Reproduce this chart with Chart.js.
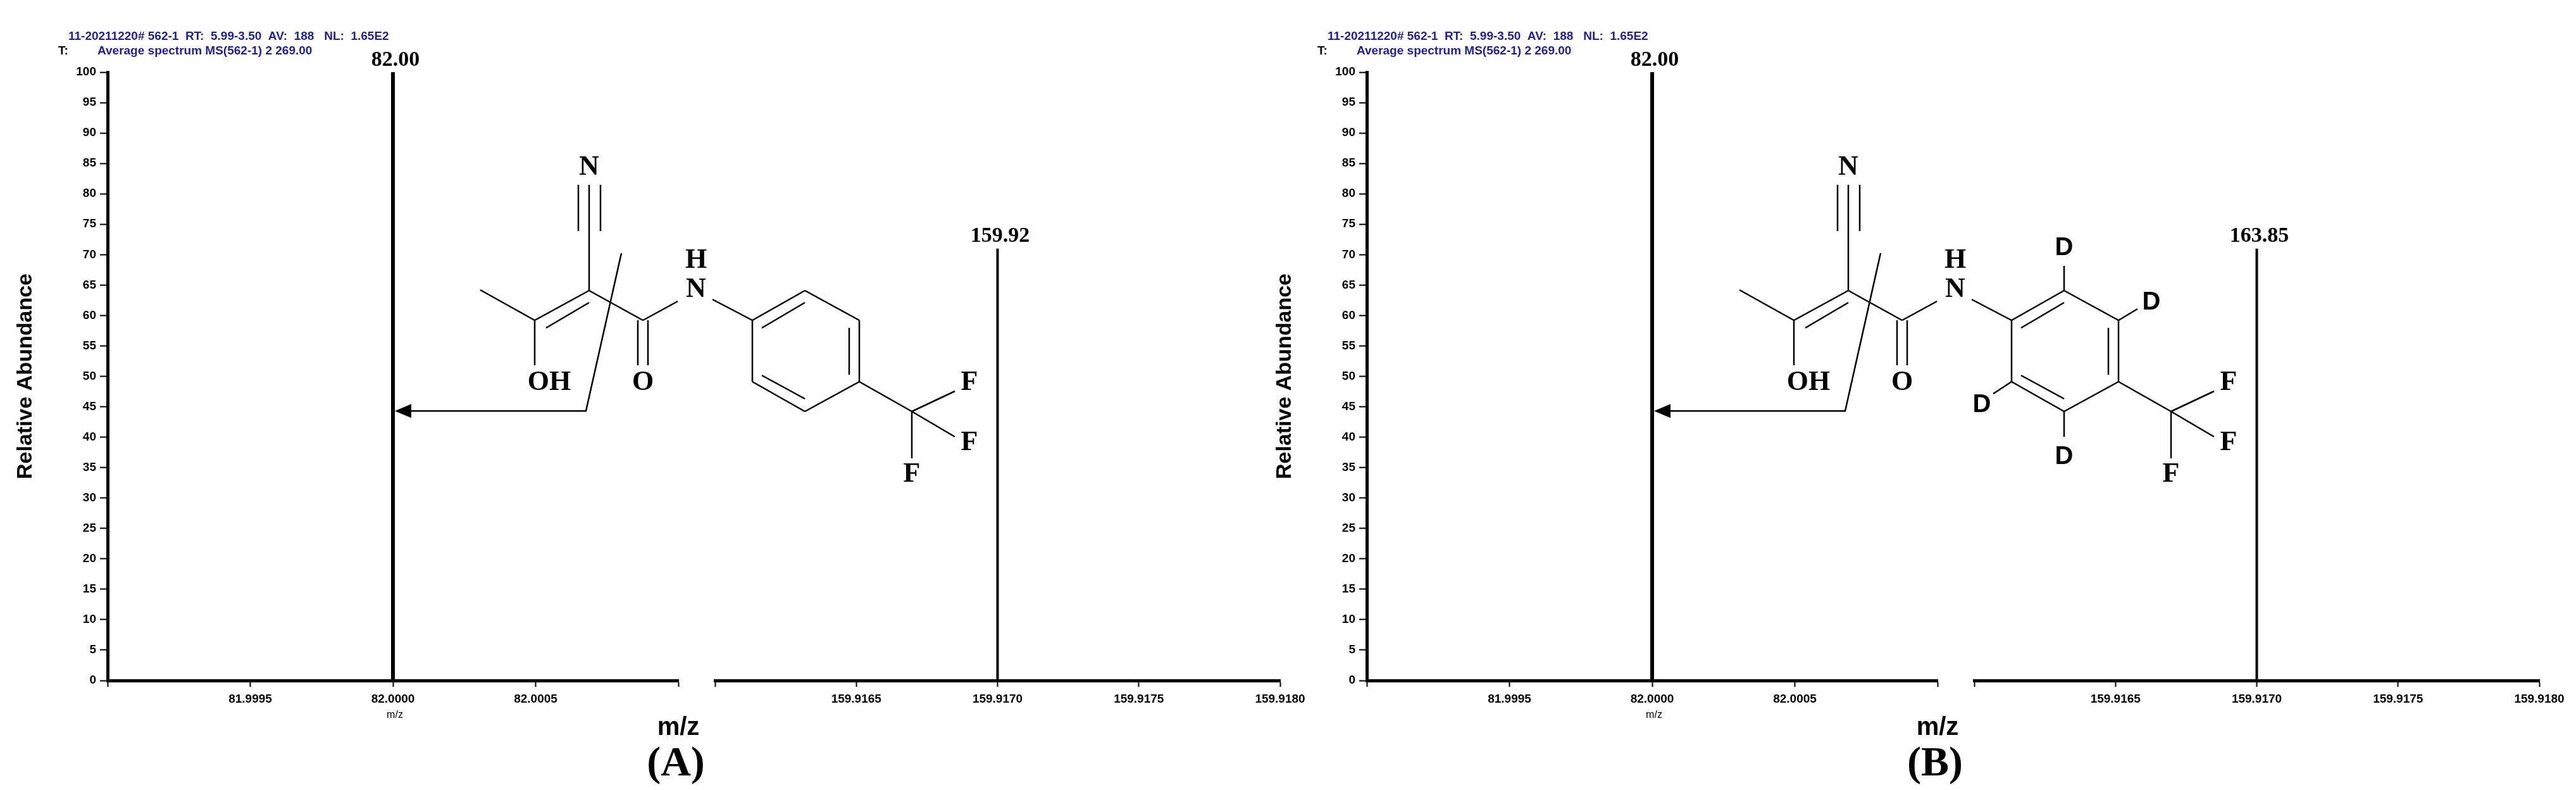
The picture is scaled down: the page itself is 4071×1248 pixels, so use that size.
<!DOCTYPE html>
<html>
<head>
<meta charset="utf-8">
<script src="https://cdn.jsdelivr.net/npm/chart.js@4.4.0/dist/chart.umd.min.js"></script>
<style>
body { margin: 0; background: #fff; }
#wrap { position: relative; width: 4071px; height: 1248px; overflow: hidden; }
canvas { position: absolute; }
</style>
</head>
<body>
<div id="wrap"></div>
<script>
// panel data
const panels = ['(A)', '(B)'];
const headerLine1 = '11-20211220# 562-1  RT:  5.99-3.50  AV:  188   NL:  1.65E2';
const headerLine2 = 'Average spectrum MS(562-1) 2 269.00';
const leftRange = [81.9990, 82.0010];
const rightRange = [159.9160, 159.9180];
const leftPeakMz = [82.0000];
const leftPeakAbund = [100];
const rightPeakMz = [159.9170];
const rightPeakAbund = [71];
const leftPeakLabels = [['82.00'], ['82.00']];
const rightPeakLabels = [['159.92'], ['163.85']];
const arrowAbund = 44.3;

const wrap = document.getElementById('wrap');
const W = 1248;
const tickFont = { family: 'Liberation Sans', size: 19, weight: 'bold' };

function makeCanvas(left, width) {
	let c = document.createElement('canvas');
	c.width = width; c.height = W;
	c.style.left = left + 'px'; c.style.top = '0px';
	c.style.width = width + 'px'; c.style.height = W + 'px';
	wrap.appendChild(c);
	return c;
}

const peakLabelPlugin = {
	id: 'peakLabels',
	afterDatasetsDraw(chart, args, opts) {
		let ctx = chart.ctx;
		ctx.save();
		ctx.fillStyle = '#000';
		ctx.font = 'bold 34px "Liberation Serif"';
		ctx.textAlign = 'center';
		ctx.textBaseline = 'bottom';
		chart.data.datasets.forEach(function(ds, i) {
			let top = ds.data[1];
			let x = chart.scales.x.getPixelForValue(top.x);
			let y = chart.scales.y.getPixelForValue(top.y);
			ctx.fillText(opts.labels[i], x + 4, y - 2);
		});
		ctx.restore();
	}
};

function peakDatasets(mz, ab, width) {
	return mz.map(function(m, i) {
		return {
			data: [{ x: m, y: 0 }, { x: m, y: ab[i] }],
			showLine: true, borderColor: '#000', borderWidth: width,
			pointRadius: 0, borderCapStyle: 'butt'
		};
	});
}

function xAxis(range, hideLast) {
	return {
		type: 'linear', min: range[0], max: range[1],
		afterFit: function(s) { s.height = W - 1075; },
		ticks: {
			stepSize: 0.0005, color: '#000', font: tickFont, maxRotation: 0, padding: 8,
			callback: function(v, i, t) {
				if (i === 0 || (hideLast && i === t.length - 1)) return '';
				return v.toFixed(4);
			}
		},
		grid: { drawOnChartArea: false, tickLength: 10, tickWidth: 2, tickColor: '#000' },
		border: { color: '#000', width: 5 }
	};
}

function drawMolecule(ctx, ox, oy, deut) {
	ctx.save();
	ctx.translate(ox, oy);
	ctx.strokeStyle = '#000';
	ctx.fillStyle = '#000';
	ctx.lineWidth = 2.5;
	function ln(a, b, c, d) { ctx.beginPath(); ctx.moveTo(a, b); ctx.lineTo(c, d); ctx.stroke(); }
	// nitrile
	ln(931, 292, 931, 459); ln(914, 292, 914, 365); ln(949, 292, 949, 365);
	// backbone
	ln(759, 458, 845, 506); ln(845, 506, 931, 459); ln(863, 518, 931, 478);
	ln(845, 506, 845, 577);
	ln(931, 459, 1016, 506); ln(1008, 506, 1008, 577); ln(1024, 506, 1024, 577);
	ln(1016, 506, 1071, 476); ln(1126, 473, 1189, 506);
	// ring
	let r = [[1189, 506], [1272, 459], [1358, 506], [1358, 603], [1272, 650], [1189, 603]];
	for (let i = 0; i < 6; i++) ln(r[i][0], r[i][1], r[(i + 1) % 6][0], r[(i + 1) % 6][1]);
	ln(1204, 518, 1272, 478); ln(1342, 518, 1342, 592); ln(1204, 593, 1272, 630);
	// CF3
	ln(1358, 603, 1441, 650); ln(1441, 650, 1509, 618); ln(1441, 650, 1509, 690); ln(1441, 650, 1441, 724);
	ctx.font = 'bold 44px "Liberation Serif"';
	ctx.textAlign = 'center'; ctx.textBaseline = 'middle';
	ctx.fillText('N', 931, 265); ctx.fillText('OH', 868, 605); ctx.fillText('O', 1016, 605);
	ctx.fillText('N', 1100, 458); ctx.fillText('H', 1100, 412);
	ctx.fillText('F', 1532, 605); ctx.fillText('F', 1532, 700); ctx.fillText('F', 1441, 750);
	if (deut) {
		ln(1272, 459, 1272, 420); ln(1358, 506, 1388, 488); ln(1189, 603, 1160, 622); ln(1272, 650, 1272, 690);
		ctx.font = 'bold 40px "Liberation Sans"';
		ctx.fillText('D', 1272, 392); ctx.fillText('D', 1410, 478); ctx.fillText('D', 1142, 640); ctx.fillText('D', 1272, 722);
	}
	ctx.restore();
}

const overlayList = [];
panels.forEach(function(name, p) {
	let ox = p * 1990;
	let lc = makeCanvas(ox, 1080);
	let leftChart = new Chart(lc.getContext('2d'), {
		type: 'scatter',
		data: { datasets: peakDatasets(leftPeakMz, leftPeakAbund, 6) },
		plugins: [peakLabelPlugin],
		options: {
			responsive: false, animation: false, events: [],
			layout: { padding: { top: 114, right: 2, left: 0, bottom: 0 } },
			plugins: { legend: { display: false }, tooltip: { enabled: false }, peakLabels: { labels: leftPeakLabels[p] } },
			scales: {
				x: xAxis(leftRange, true),
				y: {
					min: 0, max: 100,
					afterFit: function(s) { s.width = 170; },
					ticks: { stepSize: 5, color: '#000', font: tickFont, padding: 6 },
					grid: { drawOnChartArea: false, tickLength: 12, tickWidth: 2, tickColor: '#000' },
					border: { color: '#000', width: 5 },
					title: { display: true, text: 'Relative Abundance', color: '#000', font: { family: 'Liberation Sans', size: 34, weight: 'bold' }, padding: 20 }
				}
			}
		}
	});
	let rc = makeCanvas(ox + 1122, 961);
	new Chart(rc.getContext('2d'), {
		type: 'scatter',
		data: { datasets: peakDatasets(rightPeakMz, rightPeakAbund, 4) },
		plugins: [peakLabelPlugin],
		options: {
			responsive: false, animation: false, events: [],
			layout: { padding: { top: 114, right: 60, left: 0, bottom: 0 } },
			plugins: { legend: { display: false }, tooltip: { enabled: false }, peakLabels: { labels: rightPeakLabels[p] } },
			scales: {
				x: xAxis(rightRange, false),
				y: { display: false, min: 0, max: 100 }
			}
		}
	});
	overlayList.push({ ox: ox, chart: leftChart, name: name, deut: p === 1 });
});

// overlay: header text, structure, arrow, labels
let oc = makeCanvas(0, 4071);
let octx = oc.getContext('2d');
overlayList.forEach(function(o) {
	let ox = o.ox;
	octx.fillStyle = '#1f1f9a';
	octx.font = 'bold 19px "Liberation Sans"';
	octx.textBaseline = 'middle';
	octx.fillText(headerLine1, ox + 108, 58);
	octx.fillText(headerLine2, ox + 154, 81);
	octx.fillStyle = '#000';
	octx.fillText('T:', ox + 92, 81);

	drawMolecule(octx, ox, 0, o.deut);

	let px = ox + o.chart.scales.x.getPixelForValue(leftPeakMz[0]) + 3;
	let py = o.chart.scales.y.getPixelForValue(arrowAbund);
	octx.strokeStyle = '#000'; octx.lineWidth = 2.5;
	octx.beginPath();
	octx.moveTo(ox + 982, 400); octx.lineTo(ox + 926, py); octx.lineTo(px + 24, py);
	octx.stroke();
	octx.beginPath();
	octx.moveTo(px, py); octx.lineTo(px + 26, py - 11); octx.lineTo(px + 26, py + 11); octx.closePath();
	octx.fill();

	octx.textAlign = 'center';
	octx.font = '16px "Liberation Sans"';
	octx.fillText('m/z', px, 1130);
	octx.font = 'bold 40px "Liberation Sans"';
	octx.fillText('m/z', ox + 1072, 1150);
	octx.font = 'bold 66px "Liberation Serif"';
	octx.fillText(o.name, ox + 1068, 1208);
	octx.textAlign = 'left';
});
</script>
</body>
</html>
